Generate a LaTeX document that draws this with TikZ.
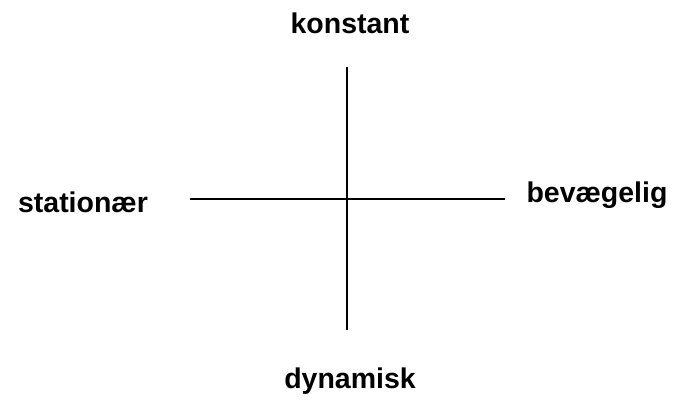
\documentclass[tikz,border=0pt]{standalone}
\usepackage{fontspec}
\setmainfont{Liberation Sans}
\begin{document}
\begin{tikzpicture}[x=1pt,y=-1pt,
  lbl/.style={font=\fontsize{28.5}{34}\selectfont\bfseries, inner sep=0pt},
  axis/.style={line width=2pt, black}]
\useasboundingbox (0,0) rectangle (676,404);
\coordinate (top) at (347,67);
\coordinate (bot) at (347,330);
\coordinate (lft) at (190,199);
\coordinate (rgt) at (505,199);
\draw[axis] (top) -- (bot);
\draw[axis] (lft) -- (rgt);
\node[lbl] (k) at (350,23) {konstant};
\node[lbl] (s) at (83,202) {stationær};
\node[lbl] (b) at (597,195) {bevægelig};
\node[lbl] (d) at (350,381) {dynamisk};
\end{tikzpicture}
\end{document}
